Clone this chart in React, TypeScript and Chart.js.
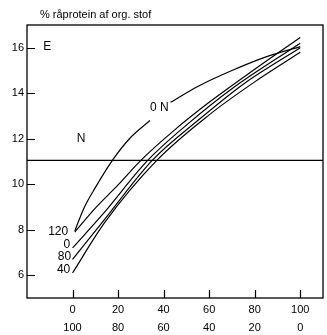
import React, { useEffect, useRef } from "react";
import { Chart, registerables } from "chart.js";

Chart.register(...registerables);

// X positions / values per curve
const xs0N = [1, 5, 10, 17.5, 25, 34, 38, 43, 55, 70, 85, 100];
const ys0N = [7.95, 8.95, 9.85, 11.05, 12.0, 12.8, null, 13.6, 14.3, 15.0, 15.6, 16.05];

const xs120 = [1, 10, 20, 30, 45, 60, 80, 100];
const ys120 = [7.9, 8.95, 9.97, 11.05, 12.4, 13.6, 15.05, 16.45];

const xs0 = [0, 13, 33, 50, 70, 100];
const ys0 = [7.2, 8.65, 11.05, 12.6, 14.2, 16.2];

const xs80 = [0, 14, 35, 55, 75, 100];
const ys80 = [6.7, 8.45, 11.05, 12.8, 14.4, 16.0];

const xs40 = [0, 14, 37, 60, 80, 100];
const ys40 = [6.1, 8.3, 11.05, 13.05, 14.5, 15.8];

const hLineX = [-20, 110];
const hLineY = [11.05, 11.05];

const xTicks = [0, 20, 40, 60, 80, 100];
const yTicks = [6, 8, 10, 12, 14, 16];

// text labels placed at data coordinates
const curveLabels = [
  { text: "120", x: -1.9, y: 7.9, align: "right" },
  { text: "0", x: -1.0, y: 7.33, align: "right" },
  { text: "80", x: -0.6, y: 6.8, align: "right" },
  { text: "40", x: -1.0, y: 6.23, align: "right" },
  { text: "E", x: -11.1, y: 16.03, align: "center" },
  { text: "N", x: 3.8, y: 12.0, align: "center" },
  { text: "0 N", x: 38.1, y: 13.35, align: "center" },
];

const yTitle = "% råprotein af org. stof";
const FONT = "'Liberation Sans', Arial, Helvetica, sans-serif";

const toPts = (xs: number[], ys: (number | null)[]) => xs.map((x, i) => ({ x, y: ys[i] }));

const decor = {
  id: "decor",
  afterDatasetsDraw(chart: any) {
    const { ctx, chartArea: a, scales } = chart;
    const xs = scales.x;
    const ys = scales.y;
    ctx.save();
    ctx.strokeStyle = "#000";
    ctx.lineWidth = 1.3;
    ctx.strokeRect(a.left, a.top, a.right - a.left, a.bottom - a.top);
    ctx.lineWidth = 1.2;
    ctx.beginPath();
    for (const v of yTicks) {
      const py = Math.round(ys.getPixelForValue(v)) + 0.5;
      ctx.moveTo(a.left, py);
      ctx.lineTo(a.left + 8, py);
    }
    for (const v of xTicks) {
      const px = Math.round(xs.getPixelForValue(v)) + 0.5;
      ctx.moveTo(px, a.bottom);
      ctx.lineTo(px, a.bottom - 8);
    }
    ctx.stroke();
    ctx.fillStyle = "#000";
    ctx.font = `12px ${FONT}`;
    ctx.textBaseline = "middle";
    for (const l of curveLabels) {
      ctx.textAlign = l.align as CanvasTextAlign;
      ctx.fillText(l.text, xs.getPixelForValue(l.x), ys.getPixelForValue(l.y));
    }
    ctx.textAlign = "left";
    ctx.font = `11px ${FONT}`;
    ctx.fillText(yTitle, a.left + 13, 15);
    ctx.restore();
  },
};

export default function App() {
  const ref = useRef<HTMLCanvasElement>(null);
  useEffect(() => {
    if (!ref.current) return;
    const line = (pts: any[], mono = true) => ({
      data: pts,
      borderColor: "#000",
      borderWidth: 1.2,
      pointRadius: 0,
      fill: false,
      spanGaps: false,
      cubicInterpolationMode: mono ? "monotone" : "default",
      tension: 0,
    });
    const chart = new Chart(ref.current, {
      type: "line",
      data: {
        datasets: [
          line(toPts(hLineX, hLineY), false),
          line(toPts(xs0N, ys0N)),
          line(toPts(xs120, ys120)),
          line(toPts(xs0, ys0)),
          line(toPts(xs80, ys80)),
          line(toPts(xs40, ys40)),
        ] as any,
      },
      options: {
        animation: false,
        responsive: false,
        layout: { padding: { top: 25, right: 4, left: 0, bottom: 0 } },
        plugins: { legend: { display: false }, tooltip: { enabled: false } },
        scales: {
          x: {
            type: "linear",
            min: -20,
            max: 110,
            afterBuildTicks: (s: any) => {
              s.ticks = xTicks.map((v) => ({ value: v }));
            },
            afterFit: (s: any) => {
              s.height = 37;
            },
            grid: { drawOnChartArea: false, drawTicks: false },
            border: { display: false },
            ticks: {
              color: "#000",
              font: { size: 11, family: FONT, lineHeight: 1.65 },
              padding: 3,
              maxRotation: 0,
              autoSkip: false,
              callback: (v: any) => [String(v), String(100 - v)],
            },
          },
          y: {
            type: "linear",
            min: 5,
            max: 17,
            afterBuildTicks: (s: any) => {
              s.ticks = yTicks.map((v) => ({ value: v }));
            },
            afterFit: (s: any) => {
              s.width = 27;
            },
            grid: { drawOnChartArea: false, drawTicks: false },
            border: { display: false },
            ticks: {
              color: "#000",
              font: { size: 11, family: FONT },
              padding: 3,
            },
          },
        },
      } as any,
      plugins: [decor],
    });
    return () => chart.destroy();
  }, []);
  return (
    <div style={{ position: "absolute", left: 0, top: 0, width: 327, height: 335, background: "#fff" }}>
      <canvas ref={ref} width={327} height={335} style={{ display: "block" }} />
    </div>
  );
}
